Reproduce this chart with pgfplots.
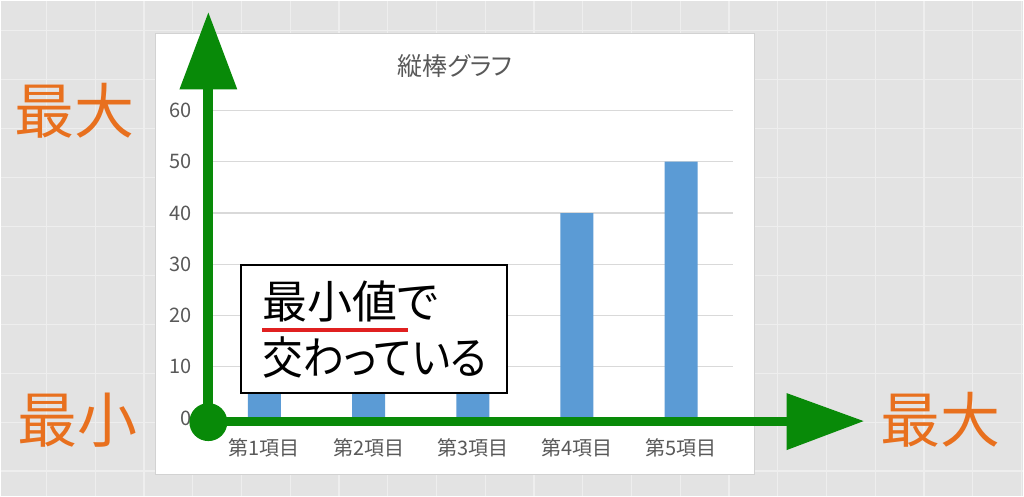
\documentclass[border=0pt]{standalone}
\usepackage{fontspec}
\usepackage{pgfplots}
\pgfplotsset{compat=1.18}
\setmainfont{Noto Sans CJK JP}
\newfontfamily\jp{Noto Sans CJK JP}
\newfontfamily\jpp{Noto Sans CJK JP}[RawFeature=+palt]
\definecolor{bggray}{RGB}{227,227,227}
\definecolor{bgline}{RGB}{238,238,238}
\definecolor{gridgray}{RGB}{217,217,217}
\definecolor{labgray}{RGB}{89,89,89}
\definecolor{barblue}{RGB}{91,155,213}
\definecolor{arrgreen}{RGB}{8,138,8}
\definecolor{lblorange}{RGB}{232,112,30}
\definecolor{ulred}{RGB}{224,32,32}
\begin{document}
\begin{tikzpicture}[x=1pt,y=1pt]
% background paper
\fill[bggray] (0,0) rectangle (1024,496);
\foreach \k in {0,...,20} {\draw[bgline, line width=1.2pt] ({46+48.8*\k},0) -- ({46+48.8*\k},496);}
\foreach \k in {0,...,9} {\draw[bgline, line width=1.2pt] (0,{496-30-49*\k}) -- (1024,{496-30-49*\k});}
\clip (0,0) rectangle (1024,496);
% chart area
\fill[white] (155,22) rectangle (755,463);
\draw[gray!35, line width=0.8pt] (155,22) rectangle (755,463);
\node[font=\jpp\fontsize{25}{25}\selectfont, text=labgray] at (455,430) {縦棒グラフ};
\begin{axis}[
  at={(212pt,78pt)}, anchor=south west,
  scale only axis, width=521.5pt, height=308pt,
  xmin=-0.5, xmax=4.5, ymin=0, ymax=60,
  ybar, bar width=33pt,
  xtick={0,1,2,3,4},
  xticklabels={第1項目,第2項目,第3項目,第4項目,第5項目},
  ytick={0,10,20,30,40,50,60},
  ymajorgrids, grid style={draw=gridgray, line width=1.3pt},
  axis line style={draw=none}, major tick length=0pt,
  /pgf/number format/assume math mode=true,
  tick label style={font=\jp\fontsize{20}{20}\selectfont, text=labgray},
  xticklabel style={anchor=center, yshift=-30pt},
  yticklabel style={anchor=east, inner sep=0pt, xshift=-21pt},
  clip=false,
]
\addplot[fill=barblue, draw=none] coordinates {(0,10) (1,20) (2,30) (3,40) (4,50)};
\end{axis}
% annotation box
\draw[black, line width=2pt, fill=white] (241,103) rectangle (507,231);
\node[anchor=west, inner sep=0pt, font=\jpp\fontsize{45}{45}\selectfont] at (262,195) {最小値で};
\node[anchor=west, inner sep=0pt, xscale=0.905, transform shape, font=\jpp\fontsize{45}{45}\selectfont] at (262,139) {交わっている};
\draw[ulred, line width=4pt] (262,166) -- (408,166);
% green arrows
\draw[arrgreen, line width=10pt] (208,75) -- (208,410);
\fill[arrgreen] (179,407) -- (237,407) -- (208,484) -- cycle;
\draw[arrgreen, line width=9pt] (208,75) -- (790,75);
\fill[arrgreen] (787,103) -- (787,46) -- (864,75) -- cycle;
\fill[arrgreen] (208,74) circle (19);
% orange labels
\node[font=\jp\fontsize{60}{60}\selectfont, text=lblorange] at (74,386) {最大};
\node[font=\jp\fontsize{60}{60}\selectfont, text=lblorange] at (77,76) {最小};
\node[font=\jp\fontsize{60}{60}\selectfont, text=lblorange] at (941,76) {最大};
\end{tikzpicture}
\end{document}
